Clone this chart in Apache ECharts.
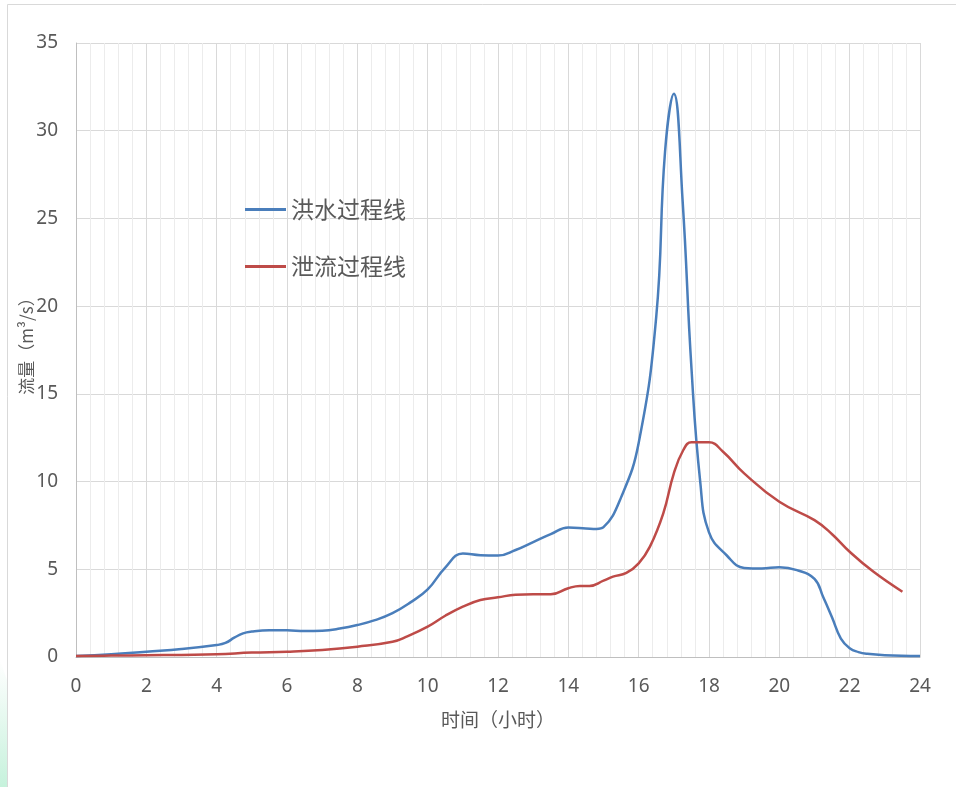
<!DOCTYPE html>
<html>
<head>
<meta charset="utf-8">
<script src="https://cdn.jsdelivr.net/npm/echarts@6/dist/echarts.min.js"></script>
<style>
html,body{margin:0;padding:0;background:#fff;}
#chart{width:956px;height:787px;}
</style>
</head>
<body>
<div id="chart"></div>
<script>
// Data
var floodName = '洪水过程线';
var ventName = '泄流过程线';
var xTitle = '时间（小时）';
var yTitle = '流量（m³/s）';

var floodHours = [0,1,2,3,4,4.25,4.5,4.75,5,5.5,6,6.5,7,7.5,8,8.5,9,9.5,10,10.5,11,11.5,12,12.5,13,13.5,14,14.5,14.8,15,15.5,16,16.5,16.75,17,17.25,17.5,17.75,18,18.5,19,19.5,20,20.5,21,21.25,21.5,21.75,22,22.25,22.5,23,24];
var floodFlow  = [0.05,0.15,0.3,0.45,0.68,0.8,1.1,1.35,1.45,1.52,1.52,1.48,1.5,1.62,1.82,2.1,2.5,3.1,3.85,5.1,5.9,5.8,5.78,6.1,6.55,7.0,7.38,7.33,7.3,7.4,9.1,12.2,19.4,28.8,32.1,26,16.5,10,7.1,5.8,5.08,5.05,5.12,4.95,4.45,3.4,2.25,1.05,0.5,0.28,0.18,0.1,0.05];

var ventHours = [0,1,2,3,4,5,6,7,8,9,9.4,10,10.5,11,11.5,12,12.5,13,13.5,14,14.33,14.6,15,15.27,15.65,16,16.32,16.7,17,17.27,17.5,18,18.4,19,20,21,21.5,22,22.67,23.5];
var ventFlow  = [0.05,0.08,0.1,0.12,0.15,0.25,0.3,0.4,0.59,0.87,1.16,1.73,2.35,2.87,3.25,3.4,3.55,3.57,3.57,3.92,4.05,4.05,4.35,4.58,4.79,5.34,6.29,8.19,10.47,11.8,12.24,12.24,11.7,10.47,8.85,7.8,7.0,6.0,4.87,3.72];

function pairs(xs, ys){ return xs.map(function(x,i){ return [x, ys[i]]; }); }

var chart = echarts.init(document.getElementById('chart'));
var txt = '#595959';
var fontCN = '"Noto Sans CJK SC", "Noto Sans", sans-serif';
chart.setOption({
  backgroundColor: '#ffffff',
  animation: false,
  graphic: [{
    type: 'rect', silent: true, z: -10,
    shape: {x: 7.5, y: 4.5, width: 1000, height: 1000},
    style: {fill: 'none', stroke: '#d9d9d9', lineWidth: 1}
  }, {
    type: 'polygon', silent: true, z: -11,
    shape: {points: [[0,660],[7,680],[7,787],[0,787]]},
    style: {fill: new echarts.graphic.LinearGradient(0,0,0,1,[{offset:0,color:'rgba(200,240,220,0)'},{offset:1,color:'#c6f2dc'}])}
  }],
  grid: {left: 76, right: 36, top: 43, bottom: 130, containLabel: false},
  legend: {
    orient: 'vertical',
    left: 245, top: 198, padding: 0,
    icon: 'rect',
    itemWidth: 41, itemHeight: 3, itemGap: 34,
    textStyle: {fontSize: 23, color: txt, fontFamily: fontCN, lineHeight: 23},
    data: [floodName, ventName]
  },
  xAxis: {
    type: 'value', min: 0, max: 24, interval: 2,
    name: xTitle, nameLocation: 'middle', nameGap: 53, nameMoveOverlap: false,
    nameTextStyle: {fontSize: 19, color: txt, fontFamily: fontCN},
    axisLine: {show: true, lineStyle: {color: '#bfbfbf', width: 1}},
    axisTick: {show: false},
    axisLabel: {fontSize: 19, color: txt, margin: 20, fontFamily: '"Noto Sans", sans-serif'},
    splitLine: {show: true, lineStyle: {color: '#d9d9d9', width: 1}},
    minorTick: {show: false, splitNumber: 5},
    minorSplitLine: {show: true, lineStyle: {color: '#ececec', width: 1}}
  },
  yAxis: {
    type: 'value', min: 0, max: 35, interval: 5,
    name: yTitle, nameLocation: 'middle', nameGap: 41, nameRotate: 90, nameMoveOverlap: false,
    nameTextStyle: {fontSize: 17, color: txt, fontFamily: fontCN, padding: [0, 0, 0, 16]},
    axisLine: {show: true, lineStyle: {color: '#bfbfbf', width: 1}},
    axisTick: {show: false},
    axisLabel: {fontSize: 19, color: txt, margin: 18, fontFamily: '"Noto Sans", sans-serif'},
    splitLine: {show: true, lineStyle: {color: '#d9d9d9', width: 1}}
  },
  series: [{
    name: floodName, type: 'line', data: pairs(floodHours, floodFlow),
    smooth: 0.45, symbol: 'none',
    lineStyle: {color: '#4a7ebb', width: 2.5}, itemStyle: {color: '#4a7ebb'}
  }, {
    name: ventName, type: 'line', data: pairs(ventHours, ventFlow),
    smooth: 0.45, symbol: 'none',
    lineStyle: {color: '#be4b48', width: 2.5}, itemStyle: {color: '#be4b48'}
  }]
});
</script>
</body>
</html>
